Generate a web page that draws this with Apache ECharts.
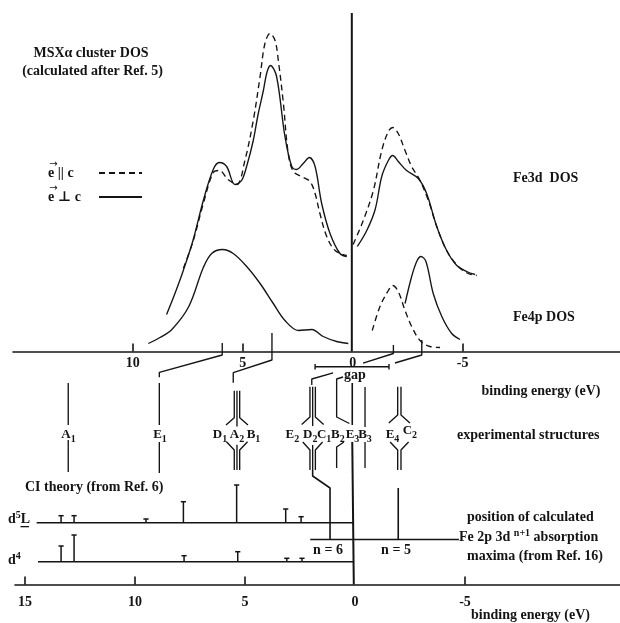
<!DOCTYPE html>
<html><head><meta charset="utf-8">
<script src="https://cdn.jsdelivr.net/npm/echarts@6/dist/echarts.min.js"></script>
<style>html,body{margin:0;padding:0;background:#fff}#c{width:620px;height:623px}</style>
</head><body><div id="c"></div>
<script>
// ---------------- DATA (binding energy in eV, intensities in arb. units) ----------------
// Fe3d DOS, e || c (dashed) and e ⊥ c (solid); [E, intensity above the DOS baseline]
const fe3dParLeft  = [[7.70,83],[7.26,110],[6.79,148],[6.34,179],[6.06,181],[5.67,172],[5.27,167],[4.90,191],[4.52,231],[4.21,275],[3.99,308],[3.76,318],[3.53,311],[3.38,291],[3.15,248],[2.93,198],[2.70,180],[2.32,175],[1.94,170],[1.71,158],[1.49,138],[1.18,115],[0.80,101],[0.27,96]];
const fe3dPerpLeft = [[8.46,37],[8.08,58],[7.70,81],[7.26,111],[6.79,151],[6.34,182],[6.06,189],[5.73,185],[5.35,167],[5.05,171],[4.81,186],[4.52,211],[4.31,236],[4.06,261],[3.90,279],[3.74,286],[3.46,275],[3.08,215],[2.77,185],[2.55,182],[2.25,188],[1.97,194],[1.71,185],[1.41,148],[1.03,118],[0.58,98],[0.27,95]];
const fe3dParRight  = [[-0.02,107],[-0.48,131],[-0.94,161],[-1.32,201],[-1.62,220],[-1.82,224],[-2.07,218],[-2.38,201],[-2.68,185],[-3.06,171],[-3.44,151],[-3.82,125],[-4.27,101],[-4.80,85],[-5.25,78],[-5.64,76]];
const fe3dPerpRight = [[-0.21,105],[-0.64,121],[-1.02,142],[-1.32,175],[-1.62,191],[-1.82,196],[-2.07,190],[-2.45,181],[-2.98,173],[-3.36,158],[-3.82,125],[-4.27,101],[-4.73,86],[-5.18,80],[-5.56,77]];
// Fe4p DOS
const fe4pPerpLeft  = [[9.29,8],[8.76,14],[8.22,22],[7.45,45],[6.79,84],[6.41,98],[5.92,102],[5.43,98],[4.82,85],[4.21,68],[3.61,48],[3.08,31],[2.47,21],[1.86,22],[1.34,15],[0.73,10],[0.20,8]];
const fe4pParRight  = [[-0.89,21],[-1.24,45],[-1.62,61],[-1.82,66],[-2.07,60],[-2.38,41],[-2.68,25],[-3.06,11],[-3.51,5],[-3.97,4]];
const fe4pPerpRight = [[-2.38,48],[-2.68,75],[-2.91,90],[-3.10,95],[-3.33,90],[-3.66,58],[-4.05,35],[-4.50,18],[-4.88,12]];

// axis ticks / labels (eV)
const topTickValues = [10, 5, -5];
const topLabelValues = [10, 5, 0, -5];
const bottomTickValues = [15, 10, 5, -5];
const bottomLabelValues = [15, 10, 5, 0, -5];

// experimental structures (eV)
const singleStructures = [12.93, 8.79, -0.56];           // A1, E1, B3
const structureGroups = [5.26, 1.82, -2.12];             // D1A2B1, E2D2C1, E4C2
const structureB2 = 0.73;
const structureE3 = 0.02;
const structureLabels = [['A','1',12.92],['E','1',8.76],['D','1',6.03],['A','2',5.26],['B','1',4.51],['E','2',2.74],['D','2',1.93],['C','1',1.30],['B','2',0.67],['E','3',0.01],['B','3',-0.56],['E','4',-1.81],['C','2',-2.60]];
// DOS peak -> structure links [peak E, structure E]
const peakLinks = [[5.93, 8.79], [3.67, 5.43], [-1.85, 1.86], [-3.14, -1.92]];
const gapEdges = [1.71, -1.65];

// CI theory (from Ref. 6): [E, intensity]
const ciD5L = [[13.36,7],[12.77,7],[9.50,3.7],[7.80,21],[5.38,37.7],[3.15,13.7],[2.45,6]];
const ciD4  = [[13.36,15.7],[12.77,26.7],[7.77,6],[5.33,10],[3.10,3.4],[2.41,3.4]];
// calculated Fe 2p 3d^(n+1) absorption maxima (Ref. 16)
const absN6 = 1.03, absN5 = -2.07;
const absLineRange = [1.93, -4.83];

// ---------------- LAYOUT ----------------
const INK = '#141414';
const SERIF = '"Liberation Serif","DejaVu Serif","Times New Roman",serif';
const Y = {top: 351.5, bot: 584.5, zeroTop: 13, d5l: 522.7, d4: 561.7, nLine: 539.5, nTop: 488};
const X0_TOP = 352.7, X0_BOT = 355, PX_EV = 22;
const topMin = (X0_TOP - 620) / PX_EV, topMaxA = (X0_TOP - 13) / PX_EV, topMaxB = (X0_TOP - 15) / PX_EV;
const botMin = (X0_BOT - 620) / PX_EV, botMax = (X0_BOT - 15) / PX_EV;

const series = [];
function line(pts, xi, o = {}) {
  series.push({type: 'line', name: o.name, xAxisIndex: xi, yAxisIndex: 1, data: pts, symbol: 'none',
    showSymbol: false, silent: true, animation: false, clip: false, smooth: o.smooth || false, z: 3,
    itemStyle: {color: INK},
    lineStyle: {color: INK, width: o.w || 1.35, type: o.dash || 'solid', cap: 'butt'}});
}
const up = a => a.map(([e, h]) => [e, Y.top - h]);
const DASH = [6, 4];
line(up(fe3dParLeft), 2, {dash: DASH, smooth: 0.35, name: 'par'});
line(up(fe3dParRight), 2, {dash: DASH, smooth: 0.35, name: 'par'});
line(up(fe4pParRight), 2, {dash: DASH, smooth: 0.35, name: 'par'});
line(up(fe3dPerpLeft), 2, {smooth: 0.35, name: 'perp'});
line(up(fe3dPerpRight), 2, {smooth: 0.35, name: 'perp'});
line(up(fe4pPerpLeft), 2, {smooth: 0.35, name: 'perp'});
line(up(fe4pPerpRight), 2, {smooth: 0.35, name: 'perp'});

// zero line
line([[0.04, Y.zeroTop], [0.04, Y.top]], 2, {w: 2});

// peak links
const [l1, l2, l3, l4] = peakLinks;
line([[l1[0], 343], [l1[0], 355], [l1[1], 372.3], [l1[1], 377.3]], 2);
line([[l2[0], 333], [l2[0], 360], [l2[1], 372.7], [l2[1], 382.7]], 2);
line([[l3[0], 345], [l3[0], 353.5], [-0.47, 363.2]], 2);
line([[0.89, 372.8], [l3[1], 379], [l3[1], 385]], 2);
line([[l4[0], 340], [l4[0], 355], [l4[1], 363]], 2);

// gap bracket
line([[gapEdges[0], 364], [gapEdges[0], 369.5]], 2, {w: 1.4});
line([[gapEdges[0], 366.7], [gapEdges[1], 366.7]], 2, {w: 1.4});
line([[gapEdges[1], 364], [gapEdges[1], 369.5]], 2, {w: 1.4});

// single structures
const singleLay = [[383, 425, 440, 472], [383, 425, 442, 473], [387, 427, 442, 468]];
singleStructures.forEach((e, i) => {
  const L = singleLay[i];
  line([[e, L[0]], [e, L[1]]], 2); line([[e, L[2]], [e, L[3]]], 2);
});
// grouped structures
const groupLay = [
  {n: 3, half: 0.123, spread: 0.5, low: 0.48, top: 390.7, fa: 417.7, fb: 425, l1: 441.7, l2: 450, b: 470},
  {n: 3, half: 0.123, spread: 0.5, low: 0.45, top: 386.7, fa: 417, fb: 424.5, l1: 442, l2: 450, b: 470},
  {n: 2, half: 0.075, spread: 0.48, low: 0.42, top: 386.7, fa: 415, fb: 423, l1: 442, l2: 450, b: 470}
];
structureGroups.forEach((e, i) => {
  const g = groupLay[i];
  const offs = g.n === 3 ? [g.half, 0, -g.half] : [g.half, -g.half];
  offs.forEach(o => {
    const s = Math.sign(o);
    if (s === 0) {
      line([[e, g.top], [e, g.fb + 1.5]], 2);
      line([[e, g.l1 + 3], [e, g.b]], 2);
    } else {
      line([[e + o, g.top], [e + o, g.fa], [e + s * g.spread, g.fb]], 2);
      line([[e + s * g.low, g.l1], [e + o, g.l2], [e + o, g.b]], 2);
    }
  });
});
// B2 and E3
line([[0.44, 377], [structureB2, 379], [structureB2, 417], [0.15, 423.5]], 2);
line([[0.40, 442], [structureB2, 447], [structureB2, 468]], 2);
line([[structureE3, 383], [structureE3, 425]], 2, {w: 1.6});
line([[structureE3, 442], [-0.05, Y.bot]], 2, {w: 2});

// n = 6 / n = 5 absorption maxima
line([[structureGroups[1], 470], [structureGroups[1], 476], [absN6, Y.nTop], [absN6, Y.nLine]], 2, {w: 1.6});
line([[absN5, Y.nTop], [absN5, Y.nLine]], 2, {w: 1.6});
line([[absLineRange[0], Y.nLine], [absLineRange[1], Y.nLine]], 2);

// CI baselines
line([[14.47, Y.d5l], [0.045, Y.d5l]], 1);
line([[14.41, Y.d4], [0.045, Y.d4]], 1);
function ciSeries(data, base) {
  return {type: 'custom', xAxisIndex: 1, yAxisIndex: 1, data, silent: true, animation: false, z: 3,
    renderItem: (p, api) => {
      const b = api.coord([api.value(0), base]);
      const t = api.coord([api.value(0), base - api.value(1)]);
      const st = {stroke: INK, lineWidth: 1.5};
      return {type: 'group', children: [
        {type: 'line', shape: {x1: b[0], y1: b[1], x2: t[0], y2: t[1]}, style: st},
        {type: 'line', shape: {x1: t[0] - 2.6, y1: t[1], x2: t[0] + 2.6, y2: t[1]}, style: st}]};
    }};
}
series.push(ciSeries(ciD5L, Y.d5l));
series.push(ciSeries(ciD4, Y.d4));

// structure labels (custom text through the axis scale)
const labRich = {
  m: {fontFamily: SERIF, fontSize: 13, fontWeight: 'bold', fill: INK, lineHeight: 18, verticalAlign: 'middle'},
  s: {fontFamily: SERIF, fontSize: 10, fontWeight: 'bold', fill: INK, lineHeight: 10, verticalAlign: 'bottom'}
};
series.push({type: 'custom', xAxisIndex: 2, yAxisIndex: 1, silent: true, animation: false, z: 6,
  data: structureLabels.map(([m, s, e]) => [e, m + s === 'C2' ? 431 : 435]),
  renderItem: (p, api) => {
    const c = api.coord([api.value(0), api.value(1)]);
    const [m, s] = structureLabels[p.dataIndex];
    return {type: 'text', x: c[0], y: c[1],
      style: {text: `{m|${m}}{s|${s}}`, rich: labRich, fill: INK, align: 'center', verticalAlign: 'middle'}};
  }});

// ---------------- TEXT ----------------
const F = `bold 14px ${SERIF}`;
function txt(x, y, text, align = 'left') {
  return {type: 'text', x, y, silent: true, z: 10, style: {text, font: F, fill: INK, align, verticalAlign: 'middle'}};
}
const richSup = {
  a: {fontFamily: SERIF, fontSize: 14, fontWeight: 'bold', fill: INK, lineHeight: 18, verticalAlign: 'middle'},
  p: {fontFamily: SERIF, fontSize: 10, fontWeight: 'bold', fill: INK, lineHeight: 10, verticalAlign: 'top'}
};
const arrow = (x, y) => ({type: 'text', x, y, silent: true, z: 10,
  style: {text: '\u2192', font: '10px "DejaVu Sans", sans-serif', fill: INK, align: 'center', verticalAlign: 'middle'}});
const graphics = [
  txt(91, 53, 'MSXα cluster DOS', 'center'),
  txt(92.5, 71, '(calculated after Ref. 5)', 'center'),
  arrow(53.5, 164.5), arrow(53.5, 188.5),
  txt(513, 178, 'Fe3d  DOS'),
  txt(513, 317, 'Fe4p DOS'),
  txt(355, 375, 'gap', 'center'),
  txt(541, 391, 'binding energy (eV)', 'center'),
  txt(457, 435, 'experimental structures'),
  txt(25, 487, 'CI theory (from Ref. 6)'),
  {type: 'text', x: 8, y: 519, z: 10, silent: true, style: {text: '{a|d}{p|5}{a|L}', rich: richSup, verticalAlign: 'middle'}},
  {type: 'rect', z: 10, silent: true, shape: {x: 20.5, y: 526, width: 8.5, height: 1.3}, style: {fill: INK}},
  {type: 'text', x: 8, y: 560, z: 10, silent: true, style: {text: '{a|d}{p|4}', rich: richSup, verticalAlign: 'middle'}},
  txt(328, 550, 'n = 6', 'center'),
  txt(396, 550, 'n = 5', 'center'),
  txt(467, 517, 'position of calculated'),
  {type: 'text', x: 459, y: 537, z: 10, silent: true, style: {text: '{a|Fe 2p 3d }{p|n+1}{a| absorption}', rich: richSup, verticalAlign: 'middle'}},
  txt(467, 556, 'maxima (from Ref. 16)'),
  txt(471, 615, 'binding energy (eV)')
];

const axisFont = {fontFamily: SERIF, fontSize: 14, fontWeight: 'bold', color: INK};
const option = {
  backgroundColor: '#fff',
  animation: false,
  grid: [
    {left: 13, right: 0, top: 0, height: Y.top},
    {left: 15, right: 0, top: 0, height: Y.bot}
  ],
  xAxis: [
    {gridIndex: 0, type: 'value', inverse: true, min: topMin, max: topMaxA, position: 'bottom',
     axisLine: {onZero: false, lineStyle: {color: INK, width: 1.6}}, splitLine: {show: false},
     axisTick: {inside: true, length: 8, customValues: topTickValues, lineStyle: {color: INK, width: 1.6}},
     axisLabel: {customValues: topLabelValues, margin: 5, ...axisFont}},
    {gridIndex: 1, type: 'value', inverse: true, min: botMin, max: botMax, position: 'bottom',
     axisLine: {onZero: false, lineStyle: {color: INK, width: 1.6}}, splitLine: {show: false},
     axisTick: {inside: true, length: 8, customValues: bottomTickValues, lineStyle: {color: INK, width: 1.6}},
     axisLabel: {customValues: bottomLabelValues, margin: 11, ...axisFont}},
    {gridIndex: 1, type: 'value', inverse: true, min: topMin, max: topMaxB, position: 'top', show: false,
     axisLine: {show: false, onZero: false}, axisTick: {show: false}, axisLabel: {show: false}, splitLine: {show: false}}
  ],
  yAxis: [
    {gridIndex: 0, type: 'value', min: 0, max: 1, show: false, splitLine: {show: false}},
    {gridIndex: 1, type: 'value', inverse: true, min: 0, max: Y.bot, show: false, splitLine: {show: false}}
  ],
  legend: {
    data: ['par', 'perp'], orient: 'vertical', align: 'right', right: 472, top: 160,
    itemWidth: 43, itemHeight: 12, itemGap: 8, selectedMode: false, padding: 5,
    itemStyle: {color: 'rgba(0,0,0,0)', borderColor: 'rgba(0,0,0,0)', borderWidth: 0},
    lineStyle: {color: INK},
    formatter: n => `{t|${n === 'par' ? 'e || c' : 'e \u22A5 c'}}`,
    textStyle: {fontFamily: SERIF, fontSize: 14, fontWeight: 'bold', color: INK, lineHeight: 16,
      rich: {t: {fontFamily: SERIF, fontSize: 14, fontWeight: 'bold', color: INK, width: 46, align: 'left', lineHeight: 16}}}
  },
  graphic: graphics,
  series
};
const chart = echarts.init(document.getElementById('c'), null, {renderer: 'canvas'});
chart.setOption(option);
</script></body></html>
